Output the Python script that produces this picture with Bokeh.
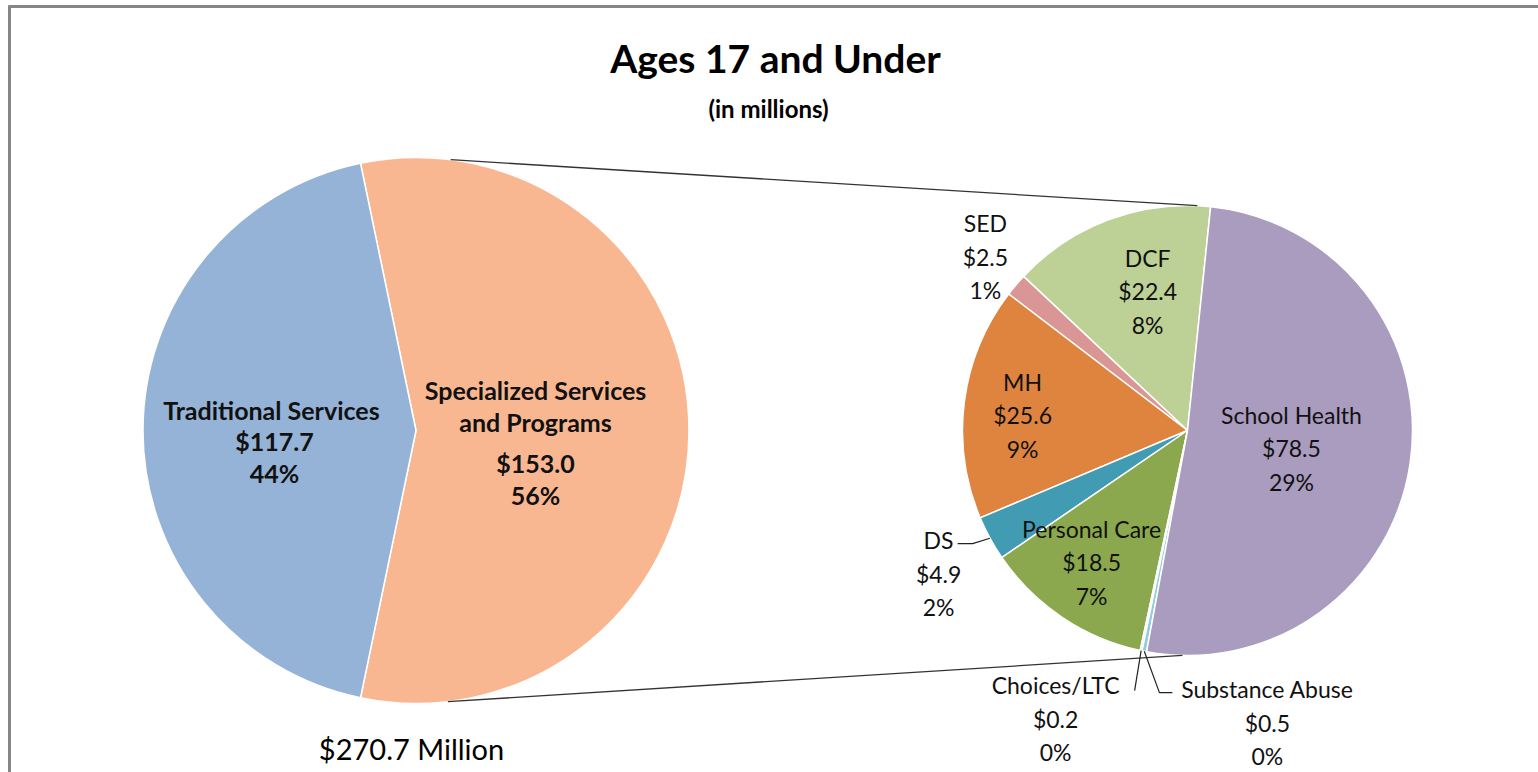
import numpy as np
from bokeh.plotting import figure
from bokeh.models import Range1d, ColumnDataSource
from bokeh.embed import file_html
from bokeh.resources import INLINE
from bokeh.core.properties import value

# ---------------- data ----------------
TITLE = "Ages 17 and Under"
SUBTITLE = "(in millions)"
TOTAL_LABEL = "$270.7 Million"

main_names = ["Specialized Services\nand Programs", "Traditional  Services"]
main_values = [153.0, 117.7]
main_pcts = [56, 44]
main_colors = ["#F9B791", "#95B3D7"]

sub_names = ["DCF", "SED", "MH", "DS", "Personal Care", "Choices/LTC",
             "Substance Abuse", "School Health"]
sub_values = [22.4, 2.5, 25.6, 4.9, 18.5, 0.2, 0.5, 78.5]
sub_pcts = [8, 1, 9, 2, 7, 0, 0, 29]
sub_colors = ["#BDD197", "#D99694", "#DE843E", "#419CB3", "#8CA84E",
              "#E6B9B8", "#93CDDD", "#A99CBF"]

# ---------------- layout (picture pixel space, y measured upward) ----------------
W, H = 1538, 772
FONT = "Lato"


def Y(py):
    return H - py


L_CX, L_CY, L_R = 415.5, Y(430), 273
R_CX, R_CY, R_R = 1187, Y(430), 225
R_START = np.deg2rad(84.1)   # angle where the secondary pie starts (ccw order)

# label placement in polar form relative to pie centres: (angle deg, radius factor)
main_label_pos = [(-5.7, 0.44), (184.4, 0.52)]
main_label_gap = [10, 0]      # extra space between name and value lines
MAIN_LINE = 31.5
sub_label_pos = [(106.0, 0.643), (139.3, 1.185), (174.8, 0.736), (209.9, 1.276),
                 (234.0, 0.725), (245.4, 1.408), (285.3, 1.346), (-9.8, 0.469)]

p = figure(width=W, height=H, output_backend="svg", toolbar_location=None,
           x_range=Range1d(0, W), y_range=Range1d(0, H), min_border=0)
p.axis.visible = False
p.grid.visible = False
p.outline_line_color = None
p.background_fill_color = "white"

# frame (left and top visible)
p.segment(x0=[9, 8], y0=[Y(5), Y(6)], x1=[9, W], y1=[Y(H), Y(6)],
          line_color="#868686", line_width=3)

total = sum(main_values)

# ---------- main pie ----------
mv = np.array(main_values)
m_ang = mv / total * 2 * np.pi
m_start = -m_ang[0] / 2 + np.concatenate([[0], np.cumsum(m_ang)[:-1]])
m_end = m_start + m_ang
src_m = ColumnDataSource(dict(start=m_start, end=m_end, color=main_colors))
p.wedge(x=L_CX, y=L_CY, radius=L_R, start_angle="start", end_angle="end",
        fill_color="color", line_color="white", line_width=1.5, source=src_m)

# ---------- secondary pie ----------
sv = np.array(sub_values)
s_total = sv.sum()
s_ang = sv / s_total * 2 * np.pi
s_start = R_START + np.concatenate([[0], np.cumsum(s_ang)[:-1]])
s_end = s_start + s_ang
s_mid = (s_start + s_end) / 2
src_s = ColumnDataSource(dict(start=s_start, end=s_end, color=sub_colors))
p.wedge(x=R_CX, y=R_CY, radius=R_R, start_angle="start", end_angle="end",
        fill_color="color", line_color="white", line_width=1.5, source=src_s)

# ---------- connector lines ----------
a_top_l, a_bot_l = np.deg2rad(82.7), np.deg2rad(-83.3)
a_top_r, a_bot_r = np.deg2rad(87.5), np.deg2rad(-91.3)
p.segment(x0=[L_CX + L_R * np.cos(a_top_l), L_CX + L_R * np.cos(a_bot_l)],
          y0=[L_CY + L_R * np.sin(a_top_l), L_CY + L_R * np.sin(a_bot_l)],
          x1=[R_CX + R_R * np.cos(a_top_r), R_CX + R_R * np.cos(a_bot_r)],
          y1=[R_CY + R_R * np.sin(a_top_r), R_CY + R_R * np.sin(a_bot_r)],
          line_color="#333333", line_width=1.3)


# ---------- labels ----------
def fmt(name, v, pct):
    return f"{name}\n${v:.1f}\n{pct}%"


# main pie labels: each line placed separately (bold)
lx, ly, lt = [], [], []
for (a, f), gap, n, v, c in zip(main_label_pos, main_label_gap, main_names,
                                main_values, main_pcts):
    cx = L_CX + L_R * f * np.cos(np.deg2rad(a))
    cy = L_CY + L_R * f * np.sin(np.deg2rad(a))
    names = n.split("\n")
    lines = names + [f"${v:.1f}", f"{c}%"]
    span = (len(lines) - 1) * MAIN_LINE + gap
    yy = cy + span / 2
    for i, t in enumerate(lines):
        if i == len(names):
            yy -= gap
        lx.append(cx)
        ly.append(yy)
        lt.append(t)
        yy -= MAIN_LINE
p.text(x=lx, y=ly, text=lt,
       text_font=value(FONT), text_font_style="bold", text_font_size="25px",
       text_align="center", text_baseline="middle", text_color="#111111")

sx = np.array([R_CX + R_R * f * np.cos(np.deg2rad(a)) for a, f in sub_label_pos])
sy = np.array([R_CY + R_R * f * np.sin(np.deg2rad(a)) for a, f in sub_label_pos])
p.text(x=sx, y=sy,
       text=[fmt(n, v, c) for n, v, c in zip(sub_names, sub_values, sub_pcts)],
       text_font=value(FONT), text_font_size="23px",
       text_align="center", text_baseline="middle", text_line_height=1.2,
       text_color="#111111")

# leader lines for the outside labels (edge point -> elbow -> label)
ex = R_CX + R_R * np.cos(s_mid)
ey = R_CY + R_R * np.sin(s_mid)
i_ds = sub_names.index("DS")
i_ch = sub_names.index("Choices/LTC")
i_sa = sub_names.index("Substance Abuse")
leaders_x = [
    [ex[i_ds], sx[i_ds] + 34, sx[i_ds] + 19],
    [ex[i_ch], sx[i_ch] + 79],
    [ex[i_sa], sx[i_sa] - 108, sx[i_sa] - 95],
]
leaders_y = [
    [ey[i_ds], sy[i_ds] + 30, sy[i_ds] + 30],
    [ey[i_ch], sy[i_ch] + 28],
    [ey[i_sa], sy[i_sa] + 30, sy[i_sa] + 30],
]
p.multi_line(xs=leaders_x, ys=leaders_y, line_color="#222222", line_width=1.2)

# ---------- titles ----------
p.text(x=[775], y=[Y(57)], text=[TITLE], text_font=value(FONT), text_font_style="bold",
       text_font_size="39px", text_align="center", text_baseline="middle",
       text_color="#000000")
p.text(x=[768], y=[Y(108)], text=[SUBTITLE], text_font=value(FONT), text_font_style="bold",
       text_font_size="24px", text_align="center", text_baseline="middle",
       text_color="#000000")
p.text(x=[411], y=[Y(748)], text=[TOTAL_LABEL], text_font=value(FONT),
       text_font_size="29px", text_align="center", text_baseline="middle",
       text_color="#000000")

open("out.html", "w").write(file_html(p, INLINE))
